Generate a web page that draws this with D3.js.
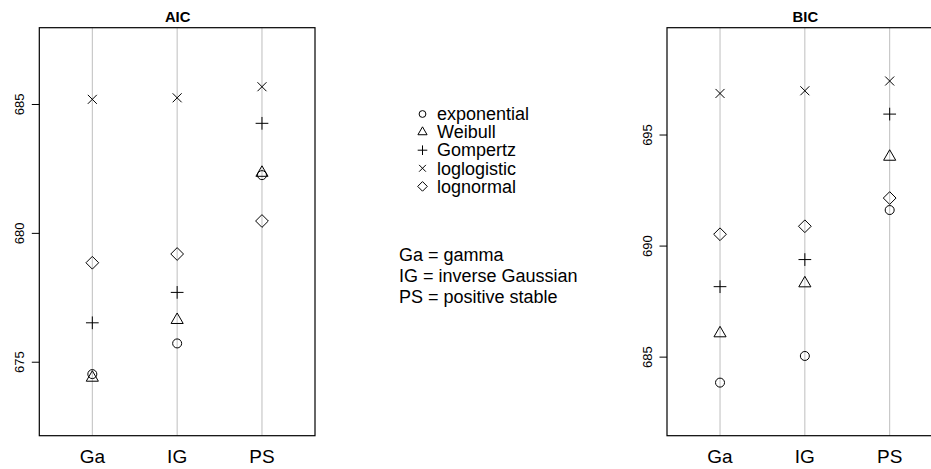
<!DOCTYPE html>
<html><head><meta charset="utf-8">
<script src="https://cdn.jsdelivr.net/npm/d3@7"></script>
<style>body{margin:0;background:#fff}svg{display:block}text{font-family:"Liberation Sans",Arial,Helvetica,sans-serif}</style>
</head><body><svg id="c" width="931" height="469"></svg>
<script>
const categories = ["Ga", "IG", "PS"];
const models = ["exponential", "Weibull", "Gompertz", "loglogistic", "lognormal"];
const aicExponential = [674.52, 675.71, 682.24];
const aicWeibull     = [674.38, 676.62, 682.33];
const aicGompertz    = [676.51, 677.69, 684.25];
const aicLoglogistic = [685.18, 685.24, 685.67];
const aicLognormal   = [678.84, 679.18, 680.46];
const bicExponential = [683.83, 685.03, 691.60];
const bicWeibull     = [686.05, 688.30, 694.00];
const bicGompertz    = [688.15, 689.37, 695.92];
const bicLoglogistic = [696.85, 696.97, 697.41];
const bicLognormal   = [690.51, 690.87, 692.14];
const aicTicks = [675, 680, 685];
const bicTicks = [685, 690, 695];
const aicDomain = [672.13, 687.96];
const bicDomain = [681.44, 699.81];
const familyNotes = ["Ga = gamma", "IG = inverse Gaussian", "PS = positive stable"];

const svg = d3.select("#c");

function symbolPath(kind, s) {
  // s = base unit (R's RADIUS)
  const p = d3.path();
  if (kind === "exponential") { p.moveTo(s, 0); p.arc(0, 0, s, 0, 2 * Math.PI); }
  else if (kind === "Weibull") {
    const xc = 1.3468 * s, r = 1.5551 * s, yc = 0.7776 * s;
    p.moveTo(0, -r); p.lineTo(xc, yc); p.lineTo(-xc, yc); p.closePath();
  } else if (kind === "Gompertz") {
    const h = Math.SQRT2 * s; p.moveTo(-h, 0); p.lineTo(h, 0); p.moveTo(0, -h); p.lineTo(0, h);
  } else if (kind === "loglogistic") {
    p.moveTo(-s, -s); p.lineTo(s, s); p.moveTo(-s, s); p.lineTo(s, -s);
  } else {
    const h = Math.SQRT2 * s; p.moveTo(0, -h); p.lineTo(h, 0); p.lineTo(0, h); p.lineTo(-h, 0); p.closePath();
  }
  return p.toString();
}

function panel(opts) {
  const {left, right, top, bottom, domain, ticks, title, series} = opts;
  const x = d3.scalePoint().domain(categories).range([left, right]).padding(0.625);
  const y = d3.scaleLinear().domain(domain).range([bottom, top]);
  const g = svg.append("g");
  // grid
  g.selectAll("line.grid").data(categories).join("line")
    .attr("x1", d => x(d)).attr("x2", d => x(d)).attr("y1", top).attr("y2", bottom)
    .attr("stroke", "#bebebe").attr("stroke-width", 1);
  // points
  models.forEach((m, i) => {
    g.selectAll(null).data(series[i]).join("path")
      .attr("transform", (v, j) => `translate(${x(categories[j])},${y(v)})`)
      .attr("d", symbolPath(m, 4.5))
      .attr("fill", "none").attr("stroke", "#000").attr("stroke-width", 1);
  });
  // box
  g.append("rect").attr("x", left).attr("y", top).attr("width", right - left).attr("height", bottom - top)
    .attr("fill", "none").attr("stroke", "#000").attr("stroke-width", 1.2);
  // y axis
  const ax = g.append("g").attr("transform", `translate(${left},0)`)
    .call(d3.axisLeft(y).tickValues(ticks).tickSize(7.5).tickFormat(d3.format("d")));
  ax.select(".domain").remove();
  ax.selectAll(".tick line").attr("stroke", "#000").attr("stroke-width", 1);
  ax.selectAll(".tick text").attr("font-size", 13).attr("fill", "#000")
    .attr("x", null).attr("dy", null)
    .attr("transform", "translate(-15.5,0) rotate(-90)").attr("text-anchor", "middle");
  // x labels
  g.selectAll("text.xl").data(categories).join("text")
    .attr("x", d => x(d)).attr("y", 463.3).attr("text-anchor", "middle")
    .attr("font-size", 19).text(d => d);
  // title
  g.append("text").attr("x", x("IG") + 0.5).attr("y", 21.7).attr("text-anchor", "middle")
    .attr("font-size", 14.8).attr("font-weight", "bold").text(title);
}

panel({left: 39.3, right: 315, top: 27.7, bottom: 435.7, domain: aicDomain, ticks: aicTicks, title: "AIC",
  series: [aicExponential, aicWeibull, aicGompertz, aicLoglogistic, aicLognormal]});
panel({left: 667, right: 942.7, top: 27.7, bottom: 435.7, domain: bicDomain, ticks: bicTicks, title: "BIC",
  series: [bicExponential, bicWeibull, bicGompertz, bicLoglogistic, bicLognormal]});

// legend
const ly = d3.scalePoint().domain(models).range([114, 186.4]);
const lg = svg.append("g");
lg.selectAll("path").data(models).join("path")
  .attr("transform", d => `translate(422.5,${ly(d)})`)
  .attr("d", d => symbolPath(d, 3.4))
  .attr("fill", "none").attr("stroke", "#000").attr("stroke-width", 1);
lg.selectAll("text").data(models).join("text")
  .attr("x", 437).attr("y", d => ly(d) + 6.2).attr("font-size", 18).text(d => d);
const ny = d3.scalePoint().domain(familyNotes).range([261, 303]);
svg.append("g").selectAll("text").data(familyNotes).join("text")
  .attr("x", 399).attr("y", d => ny(d)).attr("font-size", 18).text(d => d);
</script></body></html>
